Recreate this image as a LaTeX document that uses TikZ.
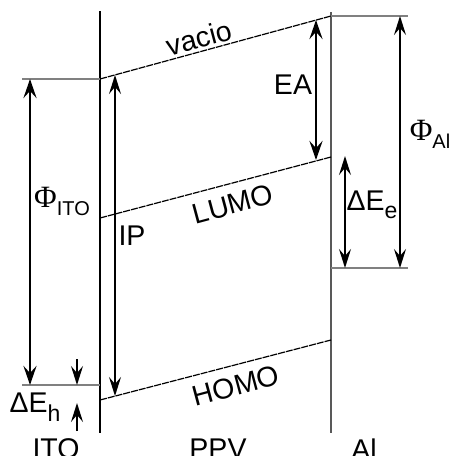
\documentclass[tikz,border=0pt]{standalone}
\usepackage{fontspec}
\setmainfont{Liberation Sans}
\newfontfamily\phifont{Liberation Serif}
\usetikzlibrary{arrows.meta}
\begin{document}
\begin{tikzpicture}[x=1pt,y=-1pt,
  lbl/.style={font=\fontsize{28.5}{30}\selectfont, inner sep=0pt},
  wallk/.style={line width=1.6pt, black},
  wallg/.style={line width=1.7pt, black!65},
  level/.style={line width=2.2pt, black!50},
  band/.style={line width=1.2pt, dash pattern=on 7pt off 1pt},
  darr/.style={line width=1.6pt, {Stealth[length=19pt,width=12pt,inset=7pt]}-{Stealth[length=19pt,width=12pt,inset=7pt]}},
  darrb/.style={line width=2.8pt, {Stealth[length=19pt,width=13pt,inset=7pt]}-{Stealth[length=19pt,width=13pt,inset=7pt]}},
  sarr/.style={line width=1.6pt, -{Stealth[length=19pt,width=12pt,inset=7pt]}}
]
\useasboundingbox (0,0) rectangle (453,456);
% walls
\coordinate (wLt) at (100,11); \coordinate (wLb) at (100,433);
\coordinate (wRt) at (331,12); \coordinate (wRb) at (331,433);
\draw[wallk] (wLt) -- (wLb);
\draw[wallg] (wRt) -- (wRb);
% metal levels
\coordinate (itoTl) at (22,79);  \coordinate (itoTr) at (100,79);
\coordinate (itoBl) at (22,385); \coordinate (itoBr) at (100,385);
\coordinate (alTl) at (331,16);  \coordinate (alTr) at (408,16);
\coordinate (alBl) at (331,268); \coordinate (alBr) at (408,268);
\draw[level] (itoTl) -- (itoTr);
\draw[level] (itoBl) -- (itoBr);
\draw[level] (alTl) -- (alTr);
\draw[level] (alBl) -- (alBr);
% PPV bands
\coordinate (vacL) at (100,79);  \coordinate (vacR) at (331,16);
\coordinate (lumoL) at (100,218); \coordinate (lumoR) at (331,157);
\coordinate (homoL) at (100,400); \coordinate (homoR) at (331,340);
\draw[band] (vacL) -- (vacR);
\draw[band] (lumoL) -- (lumoR);
\draw[band] (homoL) -- (homoR);
% arrows
\coordinate (phiIt) at (30,79);  \coordinate (phiIb) at (30,385);
\coordinate (ipT) at (115,75);   \coordinate (ipB) at (115,396);
\coordinate (dhA) at (77,359);   \coordinate (dhB) at (77,385);
\coordinate (dhC) at (77,431);   \coordinate (dhD) at (77,403);
\coordinate (eaT) at (316,20);   \coordinate (eaB) at (316,160);
\coordinate (phiAt) at (400,16); \coordinate (phiAb) at (400,268);
\coordinate (deT) at (345,156);  \coordinate (deB) at (345,268);
\draw[darrb] (phiIt) -- (phiIb);
\draw[darr] (ipT) -- (ipB);
\draw[sarr] (dhA) -- (dhB);
\draw[sarr] (dhC) -- (dhD);
\draw[darrb] (eaT) -- (eaB);
\draw[darr] (phiAt) -- (phiAb);
\draw[darr] (deT) -- (deB);
% labels
\node[lbl, rotate=15] (tvac) at (199,38) {vacio};
\node[lbl, rotate=15] (tlumo) at (233,204) {LUMO};
\node[lbl, rotate=15] (thomo) at (236,386) {HOMO};
\node[lbl] (tea) at (293,85) {EA};
\node[lbl] (tip) at (132,236) {IP};
\node[lbl] (tphiito) at (62,201) {{\phifont\fontsize{31}{32}\selectfont Φ}\raisebox{-0.28em}{\fontsize{20}{21}\selectfont ITO}};
\node[lbl] (tphial) at (430,134) {{\phifont\fontsize{31}{32}\selectfont Φ}\raisebox{-0.28em}{\fontsize{20}{21}\selectfont Al}};
\node[lbl] (tdeh) at (35,407) {ΔE\raisebox{-0.3em}{\fontsize{23}{24}\selectfont h}};
\node[lbl] (tdee) at (372,205) {ΔE\raisebox{-0.3em}{\fontsize{23}{24}\selectfont e}};
\node[lbl] (tito) at (56,449) {ITO};
\node[lbl] (tppv) at (218,449) {PPV};
\node[lbl] (tal) at (364,449) {Al};
\end{tikzpicture}
\end{document}
